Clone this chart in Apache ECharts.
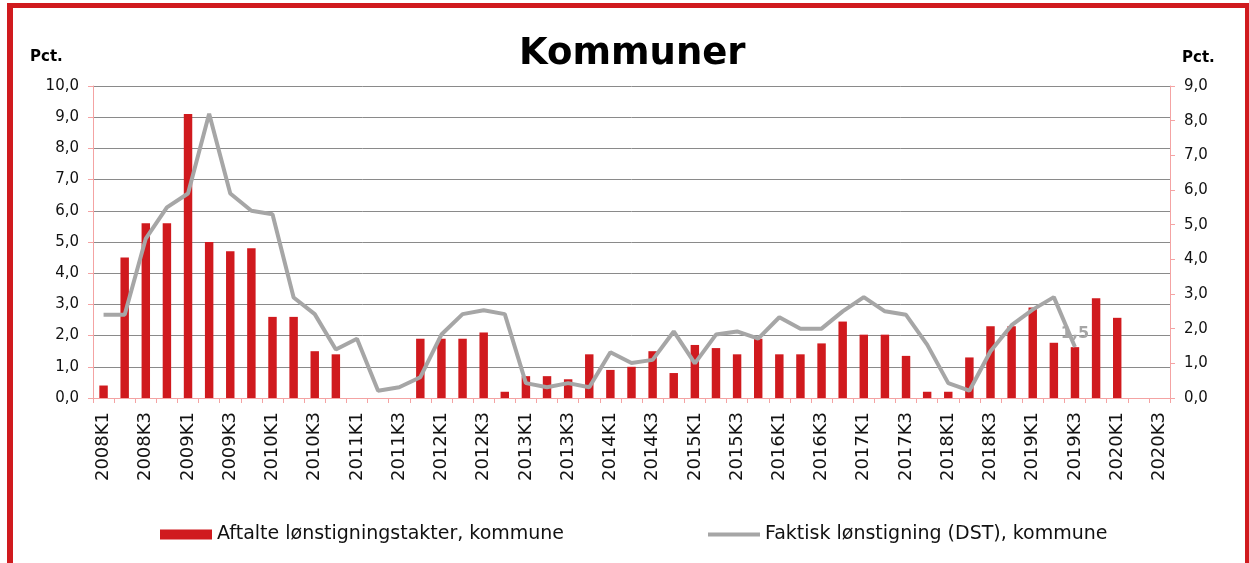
<!DOCTYPE html>
<html>
<head>
<meta charset="utf-8">
<script src="https://cdn.jsdelivr.net/npm/echarts@6/dist/echarts.min.js"></script>
<style>
  html, body { margin: 0; padding: 0; background: #fff; }
  #chart { width: 1249px; height: 563px; }
</style>
</head>
<body>
<div id="chart"></div>
<script>
// kvartaler
const categories = [
  '2008K1', '2008K2', '2008K3', '2008K4', '2009K1', '2009K2', '2009K3', '2009K4',
  '2010K1', '2010K2', '2010K3', '2010K4', '2011K1', '2011K2', '2011K3', '2011K4',
  '2012K1', '2012K2', '2012K3', '2012K4', '2013K1', '2013K2', '2013K3', '2013K4',
  '2014K1', '2014K2', '2014K3', '2014K4', '2015K1', '2015K2', '2015K3', '2015K4',
  '2016K1', '2016K2', '2016K3', '2016K4', '2017K1', '2017K2', '2017K3', '2017K4',
  '2018K1', '2018K2', '2018K3', '2018K4', '2019K1', '2019K2', '2019K3', '2019K4',
  '2020K1', '2020K2', '2020K3'
];

// Aftalte lønstigningstakter (venstre akse)
const aftalte = [
  0.4, 4.5, 5.6, 5.6, 9.1, 5.0, 4.7, 4.8,
  2.6, 2.6, 1.5, 1.4, 0, 0, 0, 1.9,
  1.9, 1.9, 2.1, 0.2, 0.7, 0.7, 0.6, 1.4,
  0.9, 1.0, 1.5, 0.8, 1.7, 1.6, 1.4, 1.9,
  1.4, 1.4, 1.75, 2.45, 2.03, 2.03, 1.35, 0.2,
  0.2, 1.3, 2.3, 2.3, 2.9, 1.77, 1.63, 3.2,
  2.57, null, null
];

// Faktisk lønstigning DST (højre akse)
const faktisk = [
  2.4, 2.4, 4.6, 5.5, 5.9, 8.2, 5.9, 5.4,
  5.3, 2.9, 2.42, 1.4, 1.71, 0.21, 0.31, 0.6,
  1.83, 2.42, 2.53, 2.42, 0.43, 0.31, 0.43, 0.31,
  1.32, 1.01, 1.1, 1.92, 1.0, 1.83, 1.92, 1.71,
  2.33, 2.0, 2.0, 2.5, 2.91, 2.5, 2.4, 1.54,
  0.43, 0.21, 1.35, 2.1, 2.55, 2.91, 1.47, null,
  null, null, null
];
const labelIndex = 46; // punkt med dataetiket

const RED = '#d01a1e';
const GREY = '#a6a6a6';
const PINK = '#f4a3a3';
const FONT = 'DejaVu Sans';

const fmt = v => v.toFixed(1).replace('.', ',');

const chart = echarts.init(document.getElementById('chart'));

const lineData = faktisk.map((v, i) => {
  if (i === labelIndex) {
    return {
      value: v,
      label: {
        show: true,
        position: 'top',
        distance: 5,
        color: GREY,
        fontFamily: FONT,
        fontSize: 16,
        fontWeight: 'bold',
        formatter: p => fmt(p.value)
      }
    };
  }
  return v;
});

const option = {
  animation: false,
  backgroundColor: '#fff',
  title: {
    text: 'Kommuner',
    left: 514,
    top: 31,
    textStyle: { fontFamily: FONT, fontSize: 37, fontWeight: 'bold', color: '#000' }
  },
  graphic: [
    { type: 'rect', shape: { x: 7, y: 3, width: 1242, height: 5 }, style: { fill: RED } },
    { type: 'rect', shape: { x: 7, y: 3, width: 6, height: 560 }, style: { fill: RED } },
    { type: 'rect', shape: { x: 1245, y: 3, width: 4, height: 560 }, style: { fill: RED } },
    { type: 'text', left: 30, top: 50, style: { text: 'Pct.', font: 'bold 15px "DejaVu Sans"', fill: '#000' } },
    { type: 'text', left: 1182, top: 51, style: { text: 'Pct.', font: 'bold 15px "DejaVu Sans"', fill: '#000' } }
  ],
  legend: [
    {
      data: [{ name: 'Aftalte lønstigningstakter, kommune', icon: 'rect' }],
      left: 160, top: 525, padding: 0,
      itemWidth: 52, itemHeight: 10,
      textStyle: { fontFamily: FONT, fontSize: 19, color: '#111' }
    },
    {
      data: [{ name: 'Faktisk lønstigning (DST), kommune', icon: 'rect', itemStyle: { color: GREY } }],
      left: 708, top: 525, padding: 0,
      itemWidth: 52, itemHeight: 4,
      textStyle: { fontFamily: FONT, fontSize: 19, color: '#111' }
    }
  ],
  grid: { left: 93, right: 79, top: 86, bottom: 165 },
  xAxis: {
    type: 'category',
    data: categories,
    boundaryGap: true,
    axisLine: { lineStyle: { color: PINK, width: 1 } },
    axisTick: { show: true, interval: 0, length: 5, lineStyle: { color: PINK } },
    axisLabel: {
      interval: 1,
      rotate: 90,
      margin: 14,
      fontFamily: FONT,
      fontSize: 18,
      color: '#111'
    }
  },
  yAxis: [
    {
      type: 'value',
      min: 0, max: 10, interval: 1,
      position: 'left',
      axisLine: { show: true, lineStyle: { color: PINK } },
      axisTick: { show: true, length: 5, lineStyle: { color: PINK } },
      axisLabel: { formatter: fmt, margin: 14, fontFamily: FONT, fontSize: 15, color: '#111' },
      splitLine: { show: true, lineStyle: { color: '#8a8a8a', width: 1 } }
    },
    {
      type: 'value',
      min: 0, max: 9, interval: 1,
      position: 'right',
      axisLine: { show: true, lineStyle: { color: PINK } },
      axisTick: { show: true, length: 5, lineStyle: { color: PINK } },
      axisLabel: { formatter: fmt, margin: 14, fontFamily: FONT, fontSize: 15, color: '#111' },
      splitLine: { show: false }
    }
  ],
  series: [
    {
      name: 'Aftalte lønstigningstakter, kommune',
      type: 'bar',
      yAxisIndex: 0,
      data: aftalte,
      barWidth: '40%',
      itemStyle: { color: RED }
    },
    {
      name: 'Faktisk lønstigning (DST), kommune',
      type: 'line',
      yAxisIndex: 1,
      data: lineData,
      symbol: 'circle',
      symbolSize: 0,
      showSymbol: true,
      lineStyle: { color: GREY, width: 4 },
      itemStyle: { color: GREY },
      z: 3
    }
  ]
};

chart.setOption(option);
</script>
</body>
</html>
